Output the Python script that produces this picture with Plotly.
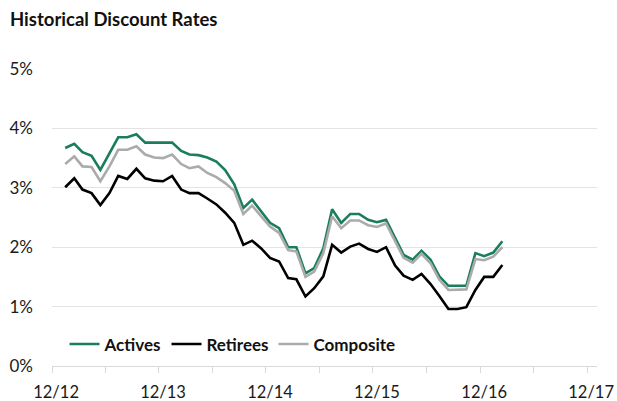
import plotly.graph_objects as go
import pandas as pd

# Monthly observations starting Dec 2012
start_month = "2012-12-15"
actives = [3.67, 3.74, 3.60, 3.54, 3.30, 3.58, 3.85, 3.85, 3.90, 3.76, 3.76, 3.76, 3.76, 3.62, 3.56, 3.55, 3.51,
           3.44, 3.30, 3.06, 2.66, 2.80, 2.60, 2.41, 2.32, 2.00, 2.00, 1.56, 1.65, 1.98, 2.64, 2.41, 2.56, 2.56, 2.46, 2.42,
           2.46, 2.15, 1.87, 1.79, 1.94, 1.79, 1.51, 1.35, 1.35, 1.35, 1.90, 1.85, 1.91, 2.10]
retirees = [3.01, 3.16, 2.97, 2.91, 2.71, 2.91, 3.20, 3.15, 3.32, 3.16, 3.12, 3.11, 3.20, 2.97, 2.91, 2.91, 2.82,
            2.72, 2.58, 2.41, 2.04, 2.11, 1.98, 1.82, 1.76, 1.48, 1.46, 1.17, 1.31, 1.51, 2.04, 1.91, 2.01, 2.06, 1.97, 1.92,
            2.00, 1.69, 1.52, 1.45, 1.55, 1.38, 1.18, 0.96, 0.96, 0.99, 1.28, 1.50, 1.50, 1.70]
composite = [3.40, 3.53, 3.36, 3.35, 3.11, 3.36, 3.64, 3.64, 3.70, 3.56, 3.51, 3.50, 3.56, 3.40, 3.33, 3.36, 3.25,
             3.18, 3.08, 2.95, 2.56, 2.70, 2.52, 2.35, 2.24, 1.95, 1.93, 1.50, 1.59, 1.90, 2.52, 2.32, 2.45, 2.45, 2.37, 2.34,
             2.40, 2.10, 1.82, 1.74, 1.89, 1.73, 1.45, 1.28, 1.28, 1.29, 1.80, 1.78, 1.84, 2.00]

year_ticks = ["2012-12-01", "2013-12-01", "2014-12-01", "2015-12-01", "2016-12-01", "2017-12-01"]
year_labels = ["12/12", "12/13", "12/14", "12/15", "12/16", "12/17"]
half_year_ticks = ["2012-12-01", "2013-06-01", "2013-12-01", "2014-06-01", "2014-12-01", "2015-06-01",
                   "2015-12-01", "2016-06-01", "2016-12-01", "2017-06-01", "2017-12-01"]
y_ticks = [0, 1, 2, 3, 4, 5]
y_labels = ["0%", "1%", "2%", "3%", "4%", "5%"]

dates = pd.date_range(start=start_month, periods=len(actives), freq="MS") + pd.Timedelta(days=14)

FONT = "Lato, 'Open Sans', sans-serif"
W, H = 617, 401

fig = go.Figure()
fig.add_trace(go.Scatter(x=dates, y=actives, name="Actives", mode="lines",
                         line=dict(color="#1a7d5e", width=2.6)))
fig.add_trace(go.Scatter(x=dates, y=retirees, name="Retirees", mode="lines",
                         line=dict(color="#000000", width=2.6)))
fig.add_trace(go.Scatter(x=dates, y=composite, name="Composite", mode="lines",
                         line=dict(color="#ababab", width=2.6)))

fig.update_layout(
    width=W, height=H,
    margin=dict(l=52, r=20, t=69, b=35),
    paper_bgcolor="white", plot_bgcolor="white",
    font=dict(family=FONT, color="#1a1a1a", size=17),
    title=dict(text="<b>Historical Discount Rates</b>", x=10 / W, xanchor="left", xref="container",
               y=1 - 20 / H, yanchor="middle", yref="container", pad=dict(l=0, r=0, t=0, b=0),
               font=dict(size=18.5, color="#111111", family=FONT)),
    showlegend=True,
    legend=dict(orientation="h", x=0.023, xanchor="left", y=0.0724, yanchor="middle",
                font=dict(size=17, color="#111111", family=FONT, weight="bold"),
                bgcolor="rgba(0,0,0,0)", itemwidth=30, tracegroupgap=0),
    xaxis=dict(
        type="date",
        range=["2012-12-01", "2018-01-04"],
        tickmode="array",
        tickvals=[pd.Timestamp(t) + pd.Timedelta(days=14) for t in year_ticks],
        ticktext=year_labels,
        ticks="",
        showgrid=False,
        showline=False,
        zeroline=False,
        automargin=False,
        tickfont=dict(size=16.5, color="#1a1a1a"),
        ticklabelstandoff=14,
        minor=dict(tickmode="array", tickvals=half_year_ticks, ticks="outside", ticklen=6,
                   tickcolor="#d9d9d9", tickwidth=1, showgrid=False),
    ),
    yaxis=dict(
        range=[0, 5],
        tickmode="array",
        tickvals=y_ticks,
        ticktext=y_labels,
        showgrid=True, gridcolor="#e3e3e3", gridwidth=1,
        zeroline=True, zerolinecolor="#d9d9d9", zerolinewidth=1,
        showline=False, ticks="",
        automargin=False,
        tickfont=dict(size=17, color="#1a1a1a"),
        ticklabelstandoff=18,
    ),
)

# remove the browser's default page margin so the figure fills the window exactly
fig.write_html("out.html", config={"displayModeBar": False},
               post_script="document.body.style.margin='0';document.body.style.overflow='hidden';")
